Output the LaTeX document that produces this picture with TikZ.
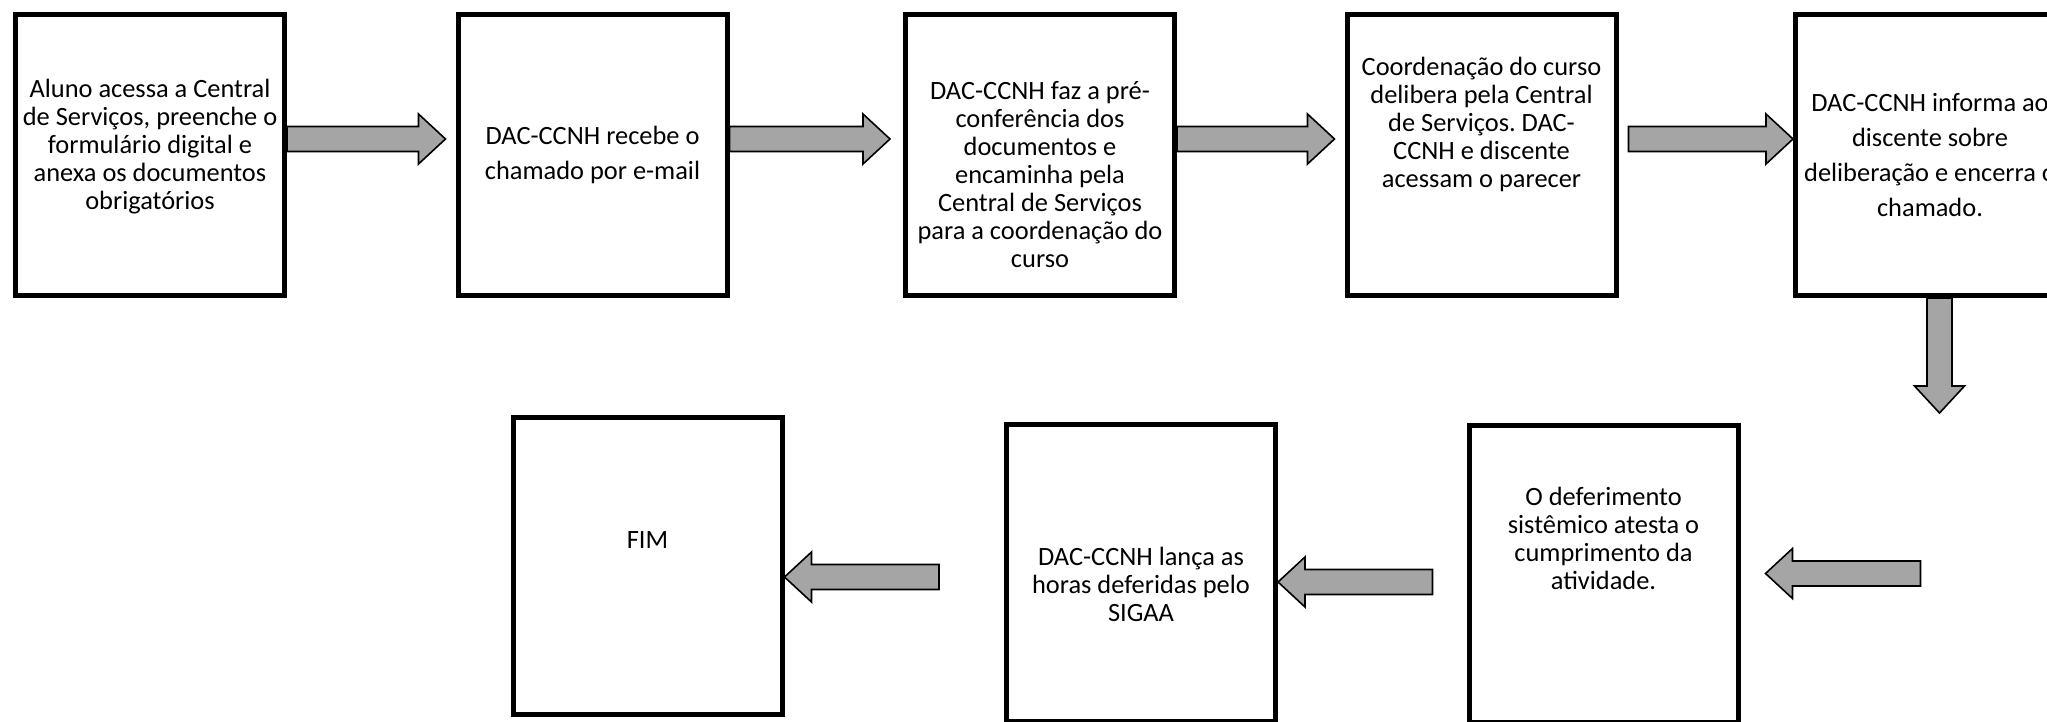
\documentclass[tikz,border=0pt]{standalone}
\usepackage{fontspec}
\setmainfont{Carlito}
\usetikzlibrary{calc}
\definecolor{arrowgray}{HTML}{A5A5A5}
\frenchspacing
\begin{document}
\begin{tikzpicture}[x=0.5pt,y=-0.5pt,
    stepbox/.style={draw,line width=2.5pt,minimum width=134.5pt,minimum height=140.5pt,inner sep=0pt},
    endbox/.style={stepbox,minimum height=148.5pt},
    steptext/.style={align=center,inner sep=0pt,font=\fontsize{13.2pt}{14pt}\selectfont},
    widetext/.style={steptext,font=\fontsize{13.2pt}{17.5pt}\selectfont},
    blockarrow/.style={draw=black,line width=0.8pt,fill=arrowgray,line join=miter,
        to path={($(\tikztostart)!6.25pt!90:(\tikztotarget)$)
            -- ($(\tikztotarget)!14.876pt!-24.84:(\tikztostart)$)
            -- ($(\tikztotarget)!18.398pt!-42.8:(\tikztostart)$)
            -- (\tikztotarget)
            -- ($(\tikztotarget)!18.398pt!42.8:(\tikztostart)$)
            -- ($(\tikztotarget)!14.876pt!24.84:(\tikztostart)$)
            -- ($(\tikztostart)!6.25pt!-90:(\tikztotarget)$) -- cycle}}]
    \useasboundingbox (0,0) rectangle (2047,722);
    \clip (0,0) rectangle (2047,722);
    \fill[white] (0,0) rectangle (2047,722);

    % top row
    \node[stepbox] (b1) at (150,155) {};
    \node[stepbox] (b2) at (592.5,155) {};
    \node[stepbox] (b3) at (1040,155) {};
    \node[stepbox] (b4) at (1481.5,155) {};
    \node[stepbox] (b5) at (1930,155) {};
    % bottom row
    \node[endbox] (b6) at (1603.5,573.5) {};
    \node[endbox] (b7) at (1141,572.5) {};
    \node[endbox] (b8) at (647.5,566) {};

    \node[steptext] (t1) at ([yshift=4pt]b1.center) {Aluno acessa a Central\\de Serviços, preenche o\\formulário digital e\\anexa os documentos\\obrigatórios};
    \node[widetext] (t2) at (b2.center) {DAC-CCNH recebe o\\chamado por e-mail};
    \node[steptext] (t3) at ([yshift=-10pt]b3.center) {DAC-CCNH faz a pré-\\conferência dos\\documentos e\\encaminha pela\\Central de Serviços\\para a coordenação do\\curso};
    \node[steptext] (t4) at ([yshift=15.5pt]b4.center) {Coordenação do curso\\delibera pela Central\\de Serviços. DAC-\\CCNH e discente\\acessam o parecer};
    \node[widetext] (t5) at (b5.center) {DAC-CCNH informa ao\\discente sobre\\deliberação e encerra o\\chamado.};
    \node[steptext] (t6) at ([yshift=17.75pt]b6.center) {O deferimento\\sistêmico atesta o\\cumprimento da\\atividade.};
    \node[steptext] (t7) at ([yshift=-5.75pt]b7.center) {DAC-CCNH lança as\\horas deferidas pelo\\SIGAA};
    \node[steptext] (t8) at ([yshift=13pt]b8.center) {FIM};

    \coordinate (a1s) at ([yshift=8pt]b1.east);
    \coordinate (a1e) at ([xshift=-5pt,yshift=8pt]b2.west);
    \coordinate (a2s) at ([yshift=8pt]b2.east);
    \coordinate (a2e) at ([xshift=-6.5pt,yshift=8pt]b3.west);
    \coordinate (a3s) at ([yshift=8pt]b3.east);
    \coordinate (a3e) at ([xshift=-5pt,yshift=8pt]b4.west);
    \coordinate (a4s) at ([xshift=5pt,yshift=8pt]b4.east);
    \coordinate (a4e) at ([yshift=8pt]b5.west);
    \coordinate (a5s) at ([xshift=4.75pt]b5.south);
    \coordinate (a5e) at ([xshift=4.75pt,yshift=-57.5pt]b5.south);
    \coordinate (a6s) at ([xshift=90pt]b6.east);
    \coordinate (a6e) at ([xshift=12.5pt]b6.east);
    \coordinate (a7s) at ([xshift=-17pt,yshift=-4.25pt]b6.west);
    \coordinate (a7e) at ([yshift=-4.75pt]b7.east);
    \coordinate (a8s) at ([xshift=-32.5pt,yshift=-2.25pt]b7.west);
    \coordinate (a8e) at ([yshift=-5.5pt]b8.east);

    \draw[blockarrow] (a1s) to (a1e);
    \draw[blockarrow] (a2s) to (a2e);
    \draw[blockarrow] (a3s) to (a3e);
    \draw[blockarrow] (a4s) to (a4e);
    \draw[blockarrow] (a5s) to (a5e);
    \draw[blockarrow] (a6s) to (a6e);
    \draw[blockarrow] (a7s) to (a7e);
    \draw[blockarrow] (a8s) to (a8e);
\end{tikzpicture}
\end{document}
